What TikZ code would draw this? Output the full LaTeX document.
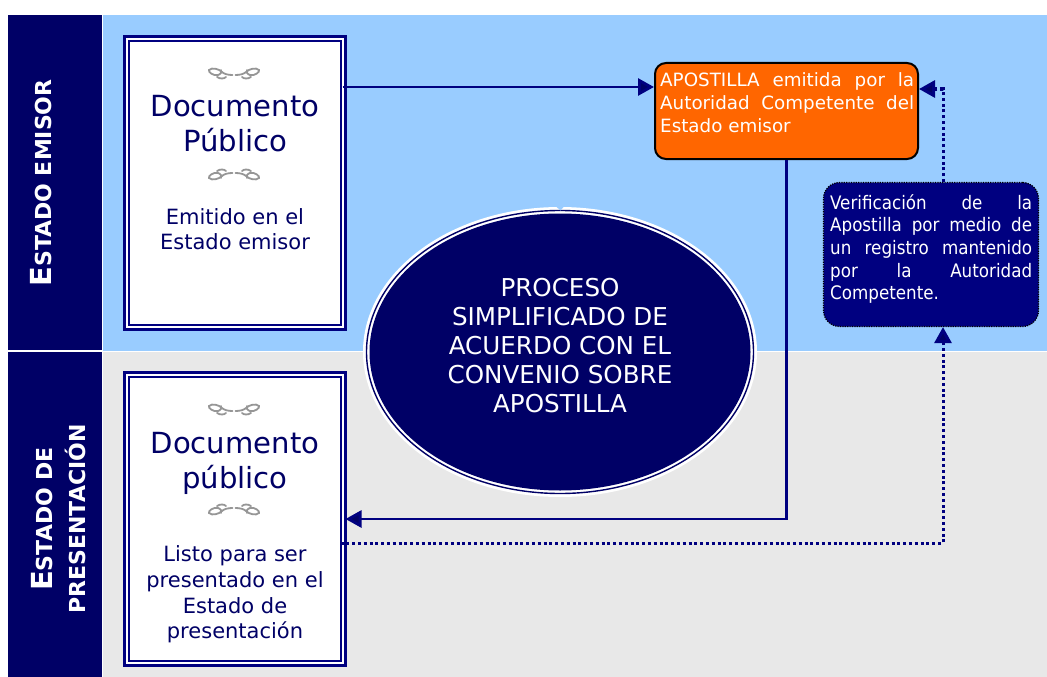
\documentclass[tikz,border=0pt]{standalone}
\usepackage{fontspec}
\setmainfont{DejaVu Sans}
\newfontfamily\condfont{DejaVu Sans Condensed}
\usetikzlibrary{arrows.meta,calc}
\definecolor{navy}{RGB}{0,0,102}
\definecolor{boxnavy}{RGB}{0,0,128}
\definecolor{skyb}{RGB}{153,204,255}
\definecolor{lgray}{RGB}{232,232,232}
\definecolor{orng}{RGB}{255,102,0}
\definecolor{fl}{RGB}{150,150,150}
\newcommand{\jl}[2]{\makebox[#1pt][s]{#2}\\}
\tikzset{
  x=1pt,y=-1pt,
  band/.style={fill=navy,draw=none,minimum width=94pt,inner sep=0pt,outer sep=0pt},
  sidetxt/.style={rotate=90,text=white,font=\fontsize{22}{33}\bfseries\selectfont,align=center,inner sep=0pt},
  docframe/.style={draw=boxnavy,line width=3pt,fill=white,minimum width=221pt,minimum height=293pt,inner sep=0pt,outer sep=0pt},
  docinner/.style={draw=boxnavy,line width=2pt,fill=none,minimum width=212pt,minimum height=284pt,inner sep=0pt},
  title/.style={text=navy,font=\fontsize{29.1}{35}\selectfont,align=center,inner sep=0pt},
  sub/.style={text=navy,font=\fontsize{21}{25.6}\selectfont,align=center,inner sep=0pt},
  arr/.style={draw=boxnavy,line width=2.8pt,-{Triangle[length=16pt,width=17pt,fill=navy]}},
  dotarr/.style={draw=boxnavy,line width=3pt,dash pattern=on 3pt off 2.8pt,-{Triangle[length=16pt,width=17pt,fill=navy]}},
  fllow/.style={draw=fl,line width=1.8pt,line cap=round},
  pics/orn/.style={code={
    \foreach \s in {-1,1}{
    \begin{scope}[xscale=\s]
    \draw[fllow] (1.5,2) .. controls (6,2) and (10,1) .. (12,-1) .. controls (15,-4) and (22,-6) .. (25,-3) .. controls (26,-1) and (21,3) .. (16,2) .. controls (13,1) and (12,-1) .. (13,-3);
    \draw[fllow] (17,4) .. controls (14,6) and (10,6) .. (8,4);
    \end{scope}}
  }}
}
\begin{document}
\begin{tikzpicture}
\useasboundingbox (0,0) rectangle (1047,677);
\fill[skyb] (103,15) rectangle (1047,351);
\fill[lgray] (103,352) rectangle (1047,677);
\node[band,minimum height=335pt] (b1) at (55,182.5) {};
\node[band,minimum height=325pt] (b2) at (55,514.5) {};
\node[sidetxt] (s1) at (41,183) {{\fontsize{29}{29}\selectfont E}STADO EMISOR};
\node[sidetxt] (s2) at (59,519) {{\fontsize{29}{29}\selectfont E}STADO DE\\PRESENTACIÓN};

\node[docframe] (doc1) at (235,183) {};
\node[docinner] (in1) at (235,183) {};
\node[docframe] (doc2) at (235,519) {};
\node[docinner] (in2) at (235,519) {};

\pic at (234,73) {orn};
\pic[yscale=-1] at (234,175) {orn};
\node[title] (t1) at (235,124) {Documento\\Público};
\node[sub] (d1) at (235,229) {Emitido en el\\Estado emisor};

\pic at (234,409) {orn};
\pic[yscale=-1] at (234,510) {orn};
\node[title] (t2) at (235,463) {Documento\\público};
\node[sub] (d2) at (235,594.5) {Listo para ser\\presentado en el\\Estado de\\presentación};

\node[draw=black,line width=2pt,fill=orng,rounded corners=11pt,minimum width=263pt,minimum height=96pt,inner sep=0pt] (apo) at (786.5,111) {};
\node[text=white,font=\fontsize{18.3}{23}\selectfont,align=left,inner sep=0pt,anchor=north west] (apot) at (660,72) {\jl{254}{APOSTILLA emitida por la}\jl{254}{Autoridad Competente del}Estado emisor};

\node[draw=black,dash pattern=on 1.2pt off 1.2pt,line width=1.2pt,fill=boxnavy,rounded corners=16pt,minimum width=215pt,minimum height=144pt,inner sep=0pt] (ver) at (931,254.5) {};
\node[text=white,font=\condfont\fontsize{18.6}{22.7}\selectfont,align=left,inner sep=0pt,anchor=north west] (vert) at (830,194) {\jl{202}{Verificación de la}\jl{202}{Apostilla por medio de}\jl{202}{un registro mantenido}\jl{202}{por la Autoridad}Competente.};

\fill[white] (560,352) ellipse [x radius=197,y radius=145];
\draw[navy,line width=1.4pt] (560,352) ellipse [x radius=193.5,y radius=141.5];
\fill[navy] (560,352) ellipse [x radius=190.5,y radius=138.5];
\fill[skyb] (556,206.5) -- (564,206.5) -- (560.5,210.5) -- cycle;
\node[text=white,font=\fontsize{24.6}{29}\selectfont,align=center,inner sep=0pt] (ell) at (560,346) {PROCESO\\SIMPLIFICADO DE\\ACUERDO CON EL\\CONVENIO SOBRE\\APOSTILLA};

\draw[arr] ([xshift=-3pt,yshift=96pt]doc1.east) -- ([yshift=24pt]apo.west);
\draw[arr] (apo.south) -- (apo.south |- doc2.east) -- (doc2.east);
\draw[dotarr] ([xshift=-5pt,yshift=-24pt]doc2.east) -| ([xshift=12pt]ver.south);
\draw[dotarr] ([xshift=12pt]ver.north) |- ([yshift=22pt]apo.east);
\end{tikzpicture}
\end{document}
